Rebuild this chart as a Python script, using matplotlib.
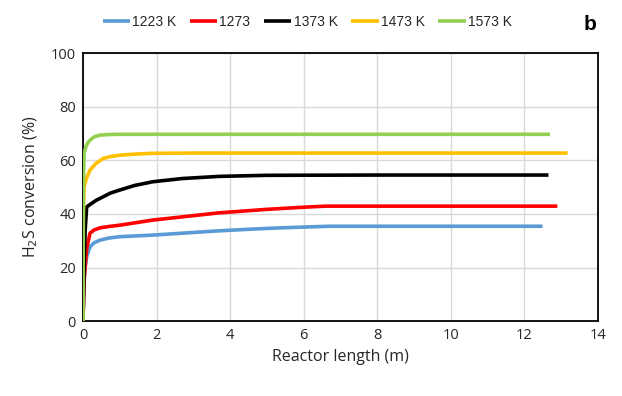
import matplotlib
matplotlib.use("Agg")
import matplotlib.pyplot as plt

labels = ["1223 K", "1273", "1373 K", "1473 K", "1573 K"]
colors = ["#5b9bd5", "#ff0000", "#000000", "#ffc000", "#92d050"]

x_1223 = [0, 0.03, 0.05, 0.1, 0.19, 0.3, 0.46, 0.7, 1.0, 1.9, 3.7, 5.0, 6.0, 6.7, 8.0, 10.0, 12.5]
y_1223 = [0, 15, 19, 24, 27.7, 29.2, 30.2, 31.0, 31.5, 32.1, 33.7, 34.6, 35.1, 35.4, 35.4, 35.4, 35.4]

x_1273 = [0, 0.03, 0.05, 0.1, 0.19, 0.3, 0.46, 0.7, 1.0, 1.9, 3.7, 5.0, 6.0, 6.6, 8.0, 10.0, 12.9]
y_1273 = [0, 15, 19, 27, 32.8, 34.0, 34.8, 35.3, 35.8, 37.7, 40.4, 41.7, 42.5, 42.9, 42.9, 42.9, 42.9]

x_1373 = [0, 0.04, 0.06, 0.1, 0.2, 0.35, 0.55, 0.75, 1.0, 1.4, 1.9, 2.7, 3.7, 5.0, 8.0, 10.0, 12.66]
y_1373 = [0, 25, 34, 42.6, 43.6, 45.0, 46.4, 47.8, 48.9, 50.6, 52.0, 53.2, 54.0, 54.4, 54.5, 54.5, 54.5]

x_1473 = [0, 0.01, 0.03, 0.1, 0.19, 0.35, 0.55, 0.75, 1.0, 1.4, 1.9, 3.0, 6.0, 10.0, 13.18]
y_1473 = [0, 40, 50.1, 53.5, 56.3, 58.8, 60.7, 61.4, 61.9, 62.3, 62.6, 62.7, 62.7, 62.7, 62.7]

x_1573 = [0, 0.01, 0.03, 0.08, 0.12, 0.19, 0.3, 0.46, 0.7, 1.0, 3.0, 6.0, 10.0, 12.7]
y_1573 = [0, 50, 62.7, 65.0, 66.3, 67.5, 68.7, 69.4, 69.6, 69.7, 69.7, 69.7, 69.7, 69.7]

xs = [x_1223, x_1273, x_1373, x_1473, x_1573]
ys = [y_1223, y_1273, y_1373, y_1473, y_1573]

plt.rcParams['font.family'] = ['Open Sans', 'DejaVu Sans']

fig = plt.figure(figsize=(6.22, 3.96), dpi=100)
ax = fig.add_axes([0.1334, 0.189, 0.8276, 0.677])

for x, y, c, l in zip(xs, ys, colors, labels):
    ax.plot(x, y, color=c, lw=2.6, label=l, solid_capstyle='butt', zorder=3)

ax.set_xlim(0, 14)
ax.set_ylim(0, 100)
ax.set_xticks(range(0, 15, 2))
ax.set_yticks(range(0, 101, 20))
ax.grid(True, color="#d9d9d9", lw=1.0, zorder=0)
ax.set_axisbelow(True)
ax.tick_params(length=0, labelsize=10.5, colors="#262626", pad=5)
for s in ax.spines.values():
    s.set_color("black")
    s.set_linewidth(1.3)

ax.set_xlabel("Reactor length (m)", fontsize=11.5, color="#262626", labelpad=4)
ax.set_ylabel("H$_2$S conversion (%)", fontsize=11.5, color="#262626", labelpad=8)

leg = fig.legend(loc="center left", bbox_to_anchor=(103 / 622, 1 - 22 / 396), ncol=5, frameon=False,
                 prop={'family': 'Liberation Sans', 'size': 10},
                 handlelength=1.95, handletextpad=0.15, columnspacing=1.0,
                 borderpad=0, borderaxespad=0)
for t in leg.get_texts():
    t.set_color("#262626")

fig.text(590 / 622, 1 - 24 / 396, "b", fontsize=15, fontweight="bold", ha="center", va="center",
         family="Liberation Sans")

fig.savefig("out.png", dpi=100)
